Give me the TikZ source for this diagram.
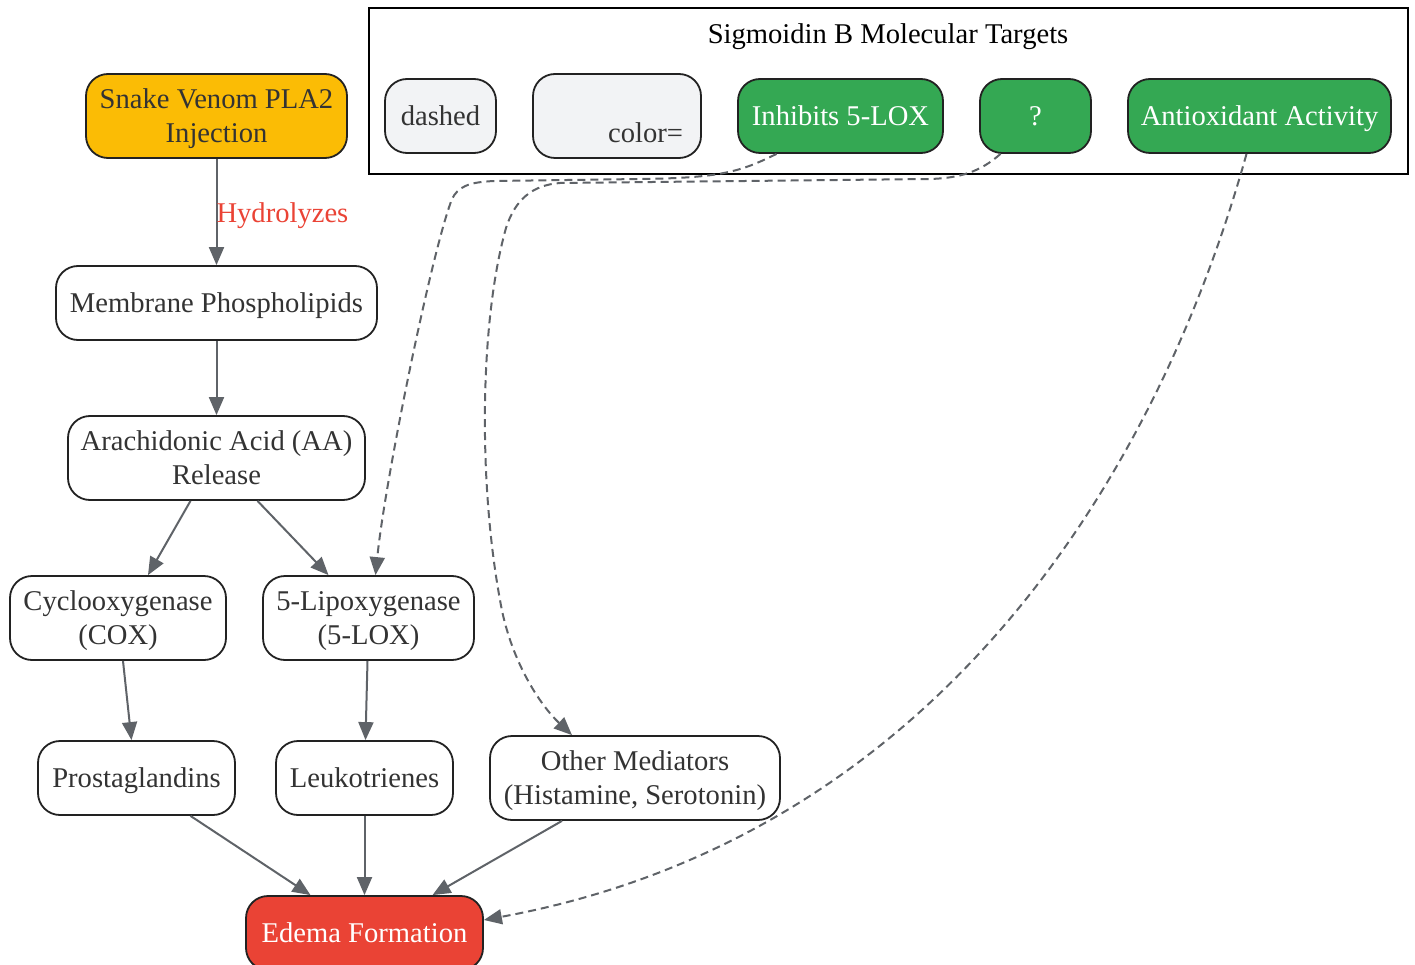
\documentclass[tikz,border=0pt]{standalone}
\usepackage{fontspec}
\setmainfont{Liberation Serif}
\usetikzlibrary{arrows.meta}
\definecolor{nodeborder}{HTML}{222222}
\definecolor{txt}{HTML}{333333}
\definecolor{edgec}{HTML}{5F6368}
\definecolor{lightfill}{HTML}{F2F3F5}
\definecolor{gfill}{HTML}{34A853}
\definecolor{yfill}{HTML}{FBBC05}
\definecolor{rfill}{HTML}{EA4335}
\newcommand{\mainfs}{\fontsize{28.6}{34}\selectfont}
\newcommand{\st}{\rule[-7pt]{0pt}{33pt}}
\tikzset{
  box/.style={draw=nodeborder, line width=1.8pt, rounded corners=22pt, inner sep=0pt,
    align=center, font=\mainfs, text=txt, fill=white},
  lightbox/.style={box, fill=lightfill},
  greenbox/.style={box, fill=gfill, text=white},
  conn/.style={draw=edgec, line width=2pt, -{Triangle[length=18pt,width=15pt]}},
  dconn/.style={conn, dash pattern=on 8pt off 5pt},
}
\begin{document}
\begin{tikzpicture}[x=1pt,y=-1pt]
\useasboundingbox (0,0) rectangle (1415,965);
% cluster
\node[draw=black, line width=2pt, inner sep=0pt, minimum width=1039pt, minimum height=166pt] (cluster) at (888.5,91) {};
\node[font=\mainfs, text=black, inner sep=0pt] (ctitle) at (888,34) {\st Sigmoidin B Molecular Targets};
\node[lightbox, minimum width=111pt, minimum height=74pt] (dashed) at (440.5,116) {\st dashed};
\node[lightbox, minimum width=168pt, minimum height=84pt, text width=132pt, align=right] (colr) at (617,116) {\st\\\st color=};
\node[greenbox, minimum width=205pt, minimum height=74pt] (inh) at (840.5,116) {\st Inhibits 5-LOX};
\node[greenbox, minimum width=111pt, minimum height=74pt] (q) at (1035.5,116) {\st ?};
\node[greenbox, minimum width=263pt, minimum height=74pt] (anti) at (1259.5,116) {\st Antioxidant Activity};
% main column
\node[box, fill=yfill, minimum width=261pt, minimum height=84pt] (snake) at (216.5,116) {\st Snake Venom PLA2\\\st Injection};
\node[box, minimum width=321pt, minimum height=74pt] (memb) at (216.5,303) {\st Membrane Phospholipids};
\node[box, minimum width=297pt, minimum height=84pt] (aa) at (216.5,458) {\st Arachidonic Acid (AA)\\\st Release};
\node[box, minimum width=216pt, minimum height=84pt] (cox) at (118,618) {\st Cyclooxygenase\\\st (COX)};
\node[box, minimum width=211pt, minimum height=84pt] (lox) at (368.5,618) {\st 5-Lipoxygenase\\\st (5-LOX)};
\node[box, minimum width=197pt, minimum height=74pt] (prost) at (136.5,778) {\st Prostaglandins};
\node[box, minimum width=177pt, minimum height=74pt] (leuk) at (364.5,778) {\st Leukotrienes};
\node[box, minimum width=290pt, minimum height=84pt] (other) at (635,778) {\st Other Mediators\\\st (Histamine, Serotonin)};
\node[box, fill=rfill, text=white, minimum width=237pt, minimum height=74pt] (edema) at (364.5,933) {\st Edema Formation};
% solid edges
\draw[conn] (snake.south) -- node[pos=0.5, anchor=west, text=rfill, font=\mainfs, inner sep=0pt, xshift=-1pt, yshift=-1pt] (hlab) {\st Hydrolyzes} (memb.north);
\draw[conn] (memb.south) -- (aa.north);
\draw[conn] ([xshift=-26pt]aa.south) -- ([xshift=30pt]cox.north);
\draw[conn] ([xshift=41pt]aa.south) -- ([xshift=-40pt]lox.north);
\draw[conn] ([xshift=5pt]cox.south) -- ([xshift=-5pt]prost.north);
\draw[conn] ([xshift=-1pt]lox.south) -- ([xshift=1pt]leuk.north);
\draw[conn] ([xshift=54pt]prost.south) -- ([xshift=-54pt]edema.north);
\draw[conn] (leuk.south) -- (edema.north);
\draw[conn] ([xshift=-73pt]other.south) -- ([xshift=68pt]edema.north);
% dashed edges
\draw[dconn] ([xshift=-64pt]inh.south) .. controls (740,172) and (720,178) .. (640,179)
  -- (495,181) .. controls (468,182) and (458,187) .. (452,199)
  .. controls (432,250) and (385,480) .. ([xshift=7pt]lox.north);
\draw[dconn] ([xshift=-35pt]q.south) .. controls (980,172) and (960,178) .. (930,179)
  -- (560,183) .. controls (532,185) and (515,200) .. (506,228)
  .. controls (480,320) and (478,480) .. (500,600)
  .. controls (510,660) and (540,705) .. ([xshift=-63pt]other.north);
\draw[dconn] ([xshift=-13pt]anti.south) .. controls (1150,500) and (920,840) .. ([yshift=13pt]edema.east);
\end{tikzpicture}
\end{document}
